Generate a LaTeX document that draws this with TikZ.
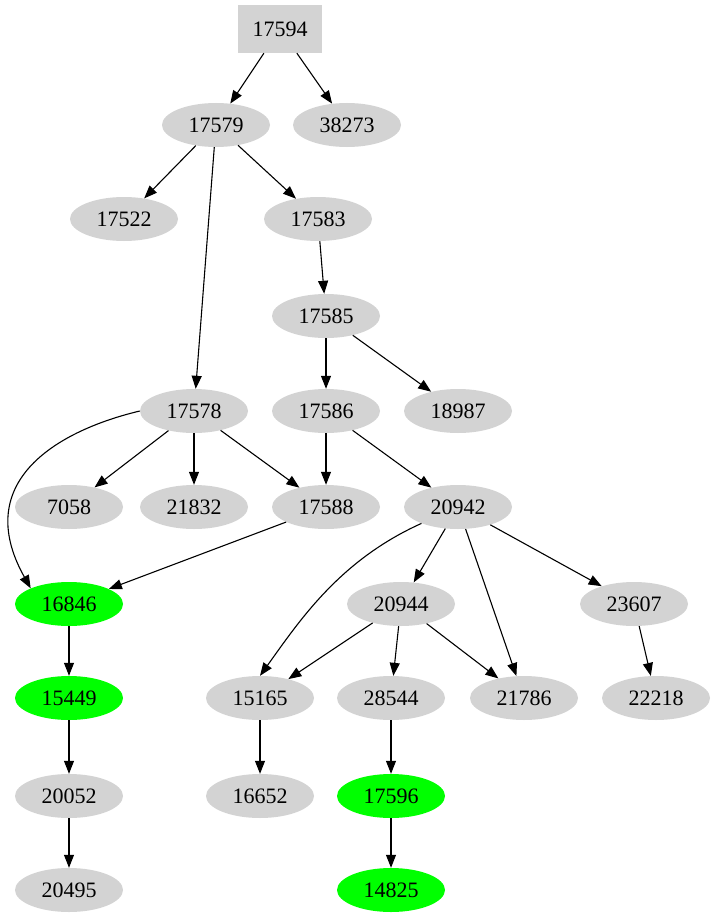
\documentclass[tikz,border=0pt]{standalone}
\usepackage{fontspec}
\setmainfont{Liberation Serif}
\usetikzlibrary{arrows.meta,shapes.geometric}
\definecolor{gr}{RGB}{211,211,211}
\definecolor{gn}{RGB}{0,255,0}
\begin{document}
\begin{tikzpicture}[x=1pt,y=-1pt,
  el/.style={ellipse,fill=gr,minimum width=108pt,minimum height=44pt,inner sep=0pt,font=\fontsize{22}{24}\selectfont},
  gel/.style={el,fill=gn},
  arr/.style={-{Triangle[length=13pt,width=10pt]},black,line width=1.1pt}]
\useasboundingbox (0,0) rectangle (715,923);
\node[fill=gr,minimum width=84pt,minimum height=48pt,inner sep=0pt,font=\fontsize{22}{24}\selectfont] (n17594) at (280,29) {17594};
\node[el] (n17579) at (216,125) {17579};
\node[el] (n38273) at (347,125) {38273};
\node[el] (n17522) at (124,219) {17522};
\node[el] (n17583) at (318,219) {17583};
\node[el] (n17585) at (326,316) {17585};
\node[el] (n17578) at (194,411) {17578};
\node[el] (n17586) at (326,411) {17586};
\node[el] (n18987) at (458,411) {18987};
\node[el] (n7058) at (69,507) {7058};
\node[el] (n21832) at (194,507) {21832};
\node[el] (n17588) at (326,507) {17588};
\node[el] (n20942) at (458,507) {20942};
\node[gel] (n16846) at (69,604) {16846};
\node[el] (n20944) at (401,604) {20944};
\node[el] (n23607) at (634,604) {23607};
\node[gel] (n15449) at (69,698) {15449};
\node[el] (n15165) at (260,698) {15165};
\node[el] (n28544) at (391,698) {28544};
\node[el] (n21786) at (524,698) {21786};
\node[el] (n22218) at (656,698) {22218};
\node[el] (n20052) at (69,796) {20052};
\node[el] (n16652) at (260,796) {16652};
\node[gel] (n17596) at (391,796) {17596};
\node[el] (n20495) at (69,890) {20495};
\node[gel] (n14825) at (391,890) {14825};
\foreach \a/\b in {17594/17579,17594/38273,17579/17522,17579/17583,17579/17578,17583/17585,17585/17586,17585/18987,17578/7058,17578/21832,17578/17588,17586/17588,17586/20942,17588/16846,20942/20944,20942/21786,20942/23607,20944/15165,20944/28544,20944/21786,23607/22218,16846/15449,15449/20052,20052/20495,15165/16652,28544/17596,17596/14825}
  \draw[arr] (n\a) -- (n\b);
\draw[arr] (n17578.west) .. controls (60,430) and (-30,480) .. (n16846.north west);
\draw[arr] (n20942) .. controls (340,560) and (300,620) .. (n15165.north);
\end{tikzpicture}
\end{document}
